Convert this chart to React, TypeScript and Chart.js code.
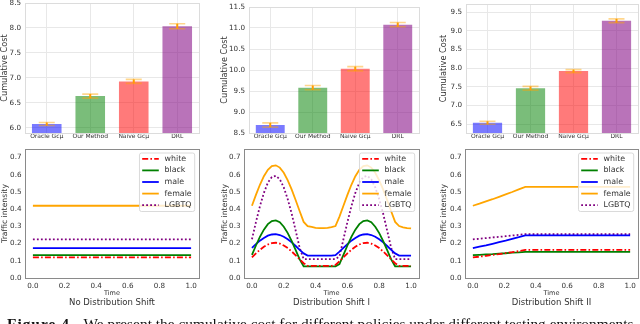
import React, { useEffect, useRef } from "react";
import { Chart, registerables } from "chart.js";

Chart.register(...registerables);
Chart.defaults.font.family = '"DejaVu Sans", sans-serif';
Chart.defaults.color = "#333";

// ---------------- data ----------------
const POLICIES = ["Oracle Gcμ", "Our Method", "Naive Gcμ", "DRL"];

const COST_NO_SHIFT = [6.074, 6.634, 6.928, 8.034];
const ERR_NO_SHIFT = [0.03, 0.04, 0.04, 0.05];
const COST_SHIFT_I = [8.69, 9.58, 10.03, 11.08];
const ERR_SHIFT_I = [0.05, 0.05, 0.05, 0.05];
const COST_SHIFT_II = [6.535, 7.46, 7.92, 9.27];
const ERR_SHIFT_II = [0.04, 0.05, 0.04, 0.05];

const COST_TICKS_NO_SHIFT = [6.0, 6.5, 7.0, 7.5, 8.0, 8.5];
const COST_TICKS_SHIFT_I = [8.5, 9.0, 9.5, 10.0, 10.5, 11.0, 11.5];
const COST_TICKS_SHIFT_II = [6.5, 7.0, 7.5, 8.0, 8.5, 9.0, 9.5];
const INTENSITY_TICKS = [0.0, 0.1, 0.2, 0.3, 0.4, 0.5, 0.6, 0.7];
const TIME_TICKS = [0.0, 0.2, 0.4, 0.6, 0.8, 1.0];

const GROUPS = ["white", "black", "male", "female", "LGBTQ"];

// No distribution shift
const TIME_NO_SHIFT = [0, 1];
const WHITE_NO_SHIFT = [0.12, 0.12];
const BLACK_NO_SHIFT = [0.133, 0.133];
const MALE_NO_SHIFT = [0.174, 0.174];
const FEMALE_NO_SHIFT = [0.42, 0.42];
const LGBTQ_NO_SHIFT = [0.225, 0.225];

// Distribution shift I
const TIME_SHIFT_I = [
  0, 0.025, 0.05, 0.075, 0.1, 0.125, 0.15, 0.175, 0.2, 0.225, 0.25, 0.275, 0.3, 0.325,
  0.35, 0.375, 0.4, 0.425, 0.45, 0.475, 0.5, 0.525, 0.55, 0.575, 0.6, 0.625, 0.65, 0.675,
  0.7, 0.725, 0.75, 0.775, 0.8, 0.825, 0.85, 0.875, 0.9, 0.925, 0.95, 0.975, 1.0,
];
const WHITE_SHIFT_I = [
  0.12, 0.143, 0.164, 0.182, 0.195, 0.203, 0.205, 0.2, 0.189, 0.174, 0.154, 0.132, 0.108, 0.086,
  0.07, 0.07, 0.07, 0.07, 0.07, 0.07, 0.07, 0.076, 0.097, 0.12, 0.143, 0.164, 0.182, 0.195,
  0.203, 0.205, 0.2, 0.189, 0.174, 0.154, 0.132, 0.108, 0.086, 0.07, 0.07, 0.07, 0.07,
];
const BLACK_SHIFT_I = [
  0.135, 0.189, 0.239, 0.281, 0.313, 0.331, 0.335, 0.324, 0.298, 0.261, 0.215, 0.162, 0.108, 0.068,
  0.068, 0.068, 0.068, 0.068, 0.068, 0.068, 0.068, 0.068, 0.081, 0.135, 0.189, 0.239, 0.281, 0.313,
  0.331, 0.335, 0.324, 0.298, 0.261, 0.215, 0.162, 0.108, 0.068, 0.068, 0.068, 0.068, 0.068,
];
const MALE_SHIFT_I = [
  0.175, 0.197, 0.217, 0.233, 0.246, 0.253, 0.255, 0.25, 0.24, 0.225, 0.207, 0.186, 0.164, 0.143,
  0.13, 0.13, 0.13, 0.13, 0.13, 0.13, 0.13, 0.133, 0.153, 0.175, 0.197, 0.217, 0.233, 0.246,
  0.253, 0.255, 0.25, 0.24, 0.225, 0.207, 0.186, 0.164, 0.143, 0.13, 0.13, 0.13, 0.13,
];
const FEMALE_SHIFT_I = [
  0.42, 0.483, 0.542, 0.592, 0.629, 0.65, 0.655, 0.642, 0.612, 0.568, 0.514, 0.452, 0.388, 0.326,
  0.302, 0.297, 0.292, 0.29, 0.29, 0.292, 0.296, 0.302, 0.357, 0.42, 0.483, 0.542, 0.592, 0.629,
  0.65, 0.655, 0.642, 0.612, 0.568, 0.514, 0.452, 0.388, 0.326, 0.302, 0.295, 0.29, 0.288,
];
const LGBTQ_SHIFT_I = [
  0.225, 0.325, 0.417, 0.495, 0.554, 0.587, 0.594, 0.574, 0.527, 0.458, 0.373, 0.275, 0.175, 0.11,
  0.11, 0.11, 0.11, 0.11, 0.11, 0.11, 0.11, 0.11, 0.125, 0.225, 0.325, 0.417, 0.495, 0.554,
  0.587, 0.594, 0.574, 0.527, 0.458, 0.373, 0.275, 0.175, 0.11, 0.11, 0.11, 0.11, 0.11,
];

// Distribution shift II
const TIME_SHIFT_II = [0, 0.0417, 0.0833, 0.125, 0.1667, 0.2083, 0.25, 0.2917, 0.3333, 1.0];
const WHITE_SHIFT_II = [0.12, 0.124, 0.129, 0.134, 0.139, 0.145, 0.15, 0.156, 0.163, 0.163];
const BLACK_SHIFT_II = [0.133, 0.135, 0.137, 0.139, 0.142, 0.144, 0.147, 0.149, 0.152, 0.152];
const MALE_SHIFT_II = [0.174, 0.182, 0.19, 0.199, 0.208, 0.217, 0.227, 0.237, 0.248, 0.248];
const FEMALE_SHIFT_II = [0.42, 0.432, 0.445, 0.458, 0.472, 0.486, 0.5, 0.515, 0.53, 0.53];
const LGBTQ_SHIFT_II = [0.225, 0.228, 0.232, 0.236, 0.239, 0.243, 0.247, 0.251, 0.255, 0.255];

// ---------------- styles ----------------
const W = 640;
const H = 324;
const TEXT = "#333";
const BAR_FILL = [
  "rgba(0,0,255,0.52)",
  "rgba(0,128,0,0.52)",
  "rgba(255,0,0,0.52)",
  "rgba(128,0,128,0.55)",
];
const LINE_COLORS = ["#ff0000", "#008000", "#0000ff", "#ffa500", "#800080"];
const LINE_DASH: number[][] = [[6, 2.2, 1.6, 2.2], [], [], [], [1.8, 2.2]];

type Box = { L: number; left: number; right: number; top: number; bottom: number };

const decorPlugin = {
  id: "decor",
  afterDatasetsDraw(chart: any, _args: any, opts: any) {
    const ctx = chart.ctx;
    const a = chart.chartArea;
    ctx.save();
    // error bars
    const ds0 = chart.data.datasets[0];
    if (ds0 && ds0.errors) {
      const meta = chart.getDatasetMeta(0);
      const ys = chart.scales.y;
      meta.data.forEach((bar: any, i: number) => {
        const v = ds0.data[i];
        const e = ds0.errors[i];
        const x = bar.x;
        const yT = ys.getPixelForValue(v + e);
        const yB = ys.getPixelForValue(v - e);
        ctx.strokeStyle = "rgba(255,165,0,0.45)";
        ctx.lineWidth = 1.6;
        ctx.beginPath();
        ctx.moveTo(x - 8, yT);
        ctx.lineTo(x + 8, yT);
        ctx.moveTo(x - 8, yB);
        ctx.lineTo(x + 8, yB);
        ctx.stroke();
        ctx.strokeStyle = "#ff9d00";
        ctx.lineWidth = 2;
        ctx.beginPath();
        ctx.moveTo(x, yT);
        ctx.lineTo(x, yB);
        ctx.stroke();
      });
    }
    // frame
    ctx.strokeStyle = opts.frameColor || "#888";
    ctx.lineWidth = 1;
    ctx.setLineDash([]);
    ctx.strokeRect(
      Math.round(a.left) + 0.5,
      Math.round(a.top) + 0.5,
      Math.round(a.right) - Math.round(a.left),
      Math.round(a.bottom) - Math.round(a.top)
    );
    // legend
    if (opts.legend) {
      const dss = chart.data.datasets;
      ctx.font = '7.9px "DejaVu Sans", sans-serif';
      let tw = 0;
      dss.forEach((d: any) => (tw = Math.max(tw, ctx.measureText(d.label).width)));
      const w = 25 + tw + 3;
      const rowH = 11.6;
      const h = rowH * dss.length + 0.5;
      const x0 = a.right - 4.3 - w;
      const y0 = a.top + 4;
      const r = 2;
      ctx.beginPath();
      ctx.moveTo(x0 + r, y0);
      ctx.lineTo(x0 + w - r, y0);
      ctx.arcTo(x0 + w, y0, x0 + w, y0 + r, r);
      ctx.lineTo(x0 + w, y0 + h - r);
      ctx.arcTo(x0 + w, y0 + h, x0 + w - r, y0 + h, r);
      ctx.lineTo(x0 + r, y0 + h);
      ctx.arcTo(x0, y0 + h, x0, y0 + h - r, r);
      ctx.lineTo(x0, y0 + r);
      ctx.arcTo(x0, y0, x0 + r, y0, r);
      ctx.closePath();
      ctx.fillStyle = "rgba(255,255,255,0.8)";
      ctx.fill();
      ctx.strokeStyle = "#d0d0d0";
      ctx.lineWidth = 0.8;
      ctx.stroke();
      dss.forEach((d: any, i: number) => {
        const cy = y0 + 5.8 + i * rowH;
        ctx.strokeStyle = d.borderColor;
        ctx.lineWidth = d.borderWidth;
        ctx.setLineDash(d.borderDash || []);
        ctx.beginPath();
        ctx.moveTo(x0 + 2.7, cy);
        ctx.lineTo(x0 + 19.3, cy);
        ctx.stroke();
        ctx.setLineDash([]);
        ctx.fillStyle = TEXT;
        ctx.textBaseline = "middle";
        ctx.textAlign = "left";
        ctx.fillText(d.label, x0 + 25, cy);
      });
    }
    ctx.restore();
  },
};

function barConfig(
  values: number[],
  errors: number[],
  yTicks: number[],
  yMin: number,
  yMax: number,
  box: Box
) {
  const xAxisH = 12;
  return {
    type: "bar",
    data: {
      labels: POLICIES,
      datasets: [
        {
          data: values,
          errors,
          backgroundColor: BAR_FILL,
          borderWidth: 0,
          barPercentage: 0.68,
          categoryPercentage: 1,
        },
      ],
    },
    options: {
      animation: false,
      responsive: false,
      maintainAspectRatio: false,
      devicePixelRatio: 1,
      events: [],
      layout: {
        autoPadding: false,
        padding: {
          left: box.L,
          top: box.top,
          right: W - box.right,
          bottom: H - box.bottom - xAxisH,
        },
      },
      plugins: {
        legend: { display: false },
        tooltip: { enabled: false },
        title: { display: false },
        decor: { frameColor: "#dcdcdc", legend: false },
      },
      scales: {
        x: {
          type: "category",
          offset: true,
          grid: { offset: false, color: "#e8e8e8", lineWidth: 1, drawTicks: false },
          border: { display: false },
          ticks: {
            font: { size: 6 },
            color: TEXT,
            padding: 0,
            maxRotation: 0,
            minRotation: 0,
            autoSkip: false,
          },
          afterFit: (s: any) => {
            s.height = xAxisH;
            s.paddingLeft = 0;
            s.paddingRight = 0;
          },
        },
        y: {
          type: "linear",
          min: yMin,
          max: yMax,
          grid: { color: "#e8e8e8", lineWidth: 1, drawTicks: false },
          border: { display: false },
          afterBuildTicks: (s: any) => {
            s.ticks = yTicks.map((v) => ({ value: v }));
          },
          ticks: {
            font: { size: 7.2 },
            color: TEXT,
            padding: 4,
            callback: (v: any) => Number(v).toFixed(1),
          },
          title: {
            display: true,
            text: "Cumulative Cost",
            font: { size: 8.2 },
            color: TEXT,
            padding: { top: 0, bottom: 0 },
          },
          afterFit: (s: any) => {
            s.width = box.left - box.L;
            s.paddingTop = 0;
            s.paddingBottom = 0;
          },
        },
      },
    },
    plugins: [decorPlugin],
  };
}

function lineConfig(times: number[], series: number[][], title: string, box: Box) {
  const xAxisH = 19.5;
  const titleH = 0.6 + 8.5 * 1.2;
  return {
    type: "line",
    data: {
      datasets: GROUPS.map((g, i) => ({
        label: g,
        data: times.map((t, j) => ({ x: t, y: series[i][j] })),
        borderColor: LINE_COLORS[i],
        backgroundColor: LINE_COLORS[i],
        borderWidth: 1.8,
        borderDash: LINE_DASH[i],
        pointRadius: 0,
        fill: false,
        tension: 0,
      })),
    },
    options: {
      animation: false,
      responsive: false,
      maintainAspectRatio: false,
      devicePixelRatio: 1,
      events: [],
      layout: {
        autoPadding: false,
        padding: {
          left: box.L,
          top: box.top,
          right: W - box.right,
          bottom: H - box.bottom - xAxisH - titleH,
        },
      },
      plugins: {
        legend: { display: false },
        tooltip: { enabled: false },
        title: {
          display: true,
          text: title,
          position: "bottom",
          fullSize: false,
          color: TEXT,
          font: { size: 8.5, weight: "normal" },
          padding: { top: 0.6, bottom: 0 },
        },
        decor: { frameColor: "#8a8a8a", legend: true },
      },
      scales: {
        x: {
          type: "linear",
          min: -0.05,
          max: 1.05,
          grid: { display: false, drawTicks: false },
          border: { display: false },
          afterBuildTicks: (s: any) => {
            s.ticks = TIME_TICKS.map((v) => ({ value: v }));
          },
          ticks: {
            font: { size: 7.2 },
            color: TEXT,
            padding: 3.4,
            maxRotation: 0,
            minRotation: 0,
            autoSkip: false,
            callback: (v: any) => Number(v).toFixed(1),
          },
          title: {
            display: true,
            text: "Time",
            font: { size: 6.5 },
            color: TEXT,
            padding: { top: 0, bottom: 0.3 },
          },
          afterFit: (s: any) => {
            s.height = xAxisH;
            s.paddingLeft = 0;
            s.paddingRight = 0;
          },
        },
        y: {
          type: "linear",
          min: 0,
          max: 0.75,
          grid: { display: false, drawTicks: false },
          border: { display: false },
          afterBuildTicks: (s: any) => {
            s.ticks = INTENSITY_TICKS.map((v) => ({ value: v }));
          },
          ticks: {
            font: { size: 7.2 },
            color: TEXT,
            padding: 3.5,
            callback: (v: any) => Number(v).toFixed(1),
          },
          title: {
            display: true,
            text: "Traffic intensity",
            font: { size: 7.7 },
            color: TEXT,
            padding: { top: 0, bottom: 0 },
          },
          afterFit: (s: any) => {
            s.width = box.left - box.L;
            s.paddingTop = 0;
            s.paddingBottom = 0;
          },
        },
      },
    },
    plugins: [decorPlugin],
  };
}

function ChartCanvas({ config }: { config: any }) {
  const ref = useRef<HTMLCanvasElement>(null);
  useEffect(() => {
    const chart = new Chart(ref.current as HTMLCanvasElement, config);
    return () => chart.destroy();
  }, []);
  return (
    <canvas
      ref={ref}
      width={W}
      height={H}
      style={{ position: "absolute", left: 0, top: 0, width: W, height: H }}
    />
  );
}

export default function App() {
  const configs = [
    barConfig(COST_NO_SHIFT, ERR_NO_SHIFT, COST_TICKS_NO_SHIFT, 5.894, 8.5, {
      L: 0, left: 25, right: 199, top: 3, bottom: 133,
    }),
    barConfig(COST_SHIFT_I, ERR_SHIFT_I, COST_TICKS_SHIFT_I, 8.5, 11.5, {
      L: 220, left: 249, right: 419, top: 7, bottom: 133,
    }),
    barConfig(COST_SHIFT_II, ERR_SHIFT_II, COST_TICKS_SHIFT_II, 6.26, 9.72, {
      L: 439, left: 466, right: 638, top: 4, bottom: 133,
    }),
    lineConfig(
      TIME_NO_SHIFT,
      [WHITE_NO_SHIFT, BLACK_NO_SHIFT, MALE_NO_SHIFT, FEMALE_NO_SHIFT, LGBTQ_NO_SHIFT],
      "No Distribution Shift",
      { L: 0, left: 25, right: 199, top: 149, bottom: 278 }
    ),
    lineConfig(
      TIME_SHIFT_I,
      [WHITE_SHIFT_I, BLACK_SHIFT_I, MALE_SHIFT_I, FEMALE_SHIFT_I, LGBTQ_SHIFT_I],
      "Distribution Shift I",
      { L: 220, left: 244, right: 419, top: 149, bottom: 278 }
    ),
    lineConfig(
      TIME_SHIFT_II,
      [WHITE_SHIFT_II, BLACK_SHIFT_II, MALE_SHIFT_II, FEMALE_SHIFT_II, LGBTQ_SHIFT_II],
      "Distribution Shift II",
      { L: 439, left: 465, right: 638, top: 149, bottom: 278 }
    ),
  ];
  return (
    <div
      style={{
        position: "fixed",
        left: 0,
        top: 0,
        width: W,
        height: H,
        overflow: "hidden",
        background: "#fff",
      }}
    >
      {configs.map((c, i) => (
        <ChartCanvas key={i} config={c} />
      ))}
      <div
        style={{
          position: "absolute",
          left: 7,
          top: 316,
          fontFamily: '"Liberation Serif", "DejaVu Serif", serif',
          fontSize: 15.4,
          lineHeight: 1,
          whiteSpace: "nowrap",
          color: "#111",
        }}
      >
        <b style={{ display: "inline-block", width: 76.5, letterSpacing: 1 }}>Figure 4.</b>
        We present the cumulative cost for different policies under different testing environments.
      </div>
    </div>
  );
}
